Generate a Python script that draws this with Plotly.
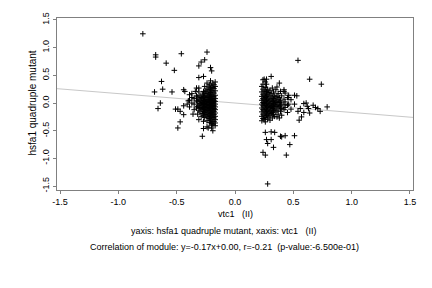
import plotly.graph_objects as go

# ---------------- data ----------------
left_points = [
    # outliers / sparse
    (-0.79, 1.25), (-0.68, 0.87), (-0.68, 0.83), (-0.59, 0.72), (-0.46, 0.89),
    (-0.52, 0.59), (-0.63, 0.39), (-0.62, 0.25), (-0.69, 0.20), (-0.54, 0.20),
    (-0.64, 0.00), (-0.66, -0.10), (-0.51, -0.11), (-0.49, -0.11), (-0.47, -0.15),
    (-0.44, -0.21), (-0.47, -0.34), (-0.49, -0.45), (-0.28, -0.60), (-0.44, 0.24),
    (-0.43, 0.21), (-0.44, -0.05), (-0.39, 0.15), (-0.37, 0.10), (-0.40, 0.04),
    (-0.41, -0.02), (-0.36, -0.20), (-0.31, -0.30), (-0.27, -0.33), (-0.27, -0.46),
    (-0.24, -0.43), (-0.20, -0.45), (-0.19, -0.50), (-0.23, -0.45), (-0.20, -0.41),
    (-0.24, 0.92), (-0.26, 0.78), (-0.29, 0.74), (-0.31, 0.67), (-0.21, 0.64),
    (-0.20, 0.58), (-0.31, 0.46), (-0.27, 0.48), (-0.33, 0.27), (-0.24, 0.36),
    (-0.37, 0.17), (-0.34, 0.21), (-0.33, 0.13), (-0.31, 0.27),
    # dense core
    (-0.17, 0.38), (-0.17, 0.30), (-0.17, 0.22), (-0.17, 0.14), (-0.17, 0.08),
    (-0.17, 0.03), (-0.17, -0.02), (-0.17, -0.07), (-0.17, -0.12), (-0.17, -0.18),
    (-0.17, -0.24), (-0.17, -0.30), (-0.17, -0.36), (-0.17, -0.41),
    (-0.18, 0.33), (-0.18, 0.26), (-0.18, 0.18), (-0.18, 0.11), (-0.18, 0.05),
    (-0.18, 0.00), (-0.18, -0.05), (-0.18, -0.10), (-0.18, -0.15), (-0.18, -0.21),
    (-0.18, -0.27), (-0.18, -0.33),
    (-0.19, 0.36), (-0.19, 0.28), (-0.19, 0.20), (-0.19, 0.12), (-0.19, 0.06),
    (-0.19, 0.01), (-0.19, -0.04), (-0.19, -0.09), (-0.19, -0.14), (-0.19, -0.20),
    (-0.19, -0.26), (-0.19, -0.34), (-0.19, -0.39),
    (-0.20, 0.31), (-0.20, 0.23), (-0.20, 0.16), (-0.20, 0.09), (-0.20, 0.04),
    (-0.20, -0.01), (-0.20, -0.06), (-0.20, -0.11), (-0.20, -0.17), (-0.20, -0.23),
    (-0.20, -0.29), (-0.20, -0.37),
    (-0.21, 0.40), (-0.21, 0.27), (-0.21, 0.19), (-0.21, 0.13), (-0.21, 0.07),
    (-0.21, 0.02), (-0.21, -0.03), (-0.21, -0.08), (-0.21, -0.13), (-0.21, -0.19),
    (-0.21, -0.25), (-0.21, -0.31),
    (-0.22, 0.33), (-0.22, 0.24), (-0.22, 0.15), (-0.22, 0.10), (-0.22, 0.05),
    (-0.22, 0.00), (-0.22, -0.05), (-0.22, -0.10), (-0.22, -0.16), (-0.22, -0.22),
    (-0.22, -0.28), (-0.22, -0.35),
    (-0.23, 0.29), (-0.23, 0.20), (-0.23, 0.12), (-0.23, 0.06), (-0.23, 0.01),
    (-0.23, -0.04), (-0.23, -0.09), (-0.23, -0.14), (-0.23, -0.20), (-0.23, -0.27),
    (-0.24, 0.25), (-0.24, 0.17), (-0.24, 0.09), (-0.24, 0.03), (-0.24, -0.02),
    (-0.24, -0.07), (-0.24, -0.12), (-0.24, -0.18), (-0.24, -0.24), (-0.24, -0.32),
    (-0.25, 0.22), (-0.25, 0.14), (-0.25, 0.07), (-0.25, 0.02), (-0.25, -0.03),
    (-0.25, -0.08), (-0.25, -0.14), (-0.25, -0.21),
    (-0.26, 0.30), (-0.26, 0.18), (-0.26, 0.10), (-0.26, 0.04), (-0.26, -0.01),
    (-0.26, -0.06), (-0.26, -0.11), (-0.26, -0.17), (-0.26, -0.26),
    (-0.27, 0.21), (-0.27, 0.12), (-0.27, 0.05), (-0.27, -0.02), (-0.27, -0.09),
    (-0.27, -0.15), (-0.27, -0.22),
    (-0.28, 0.16), (-0.28, 0.08), (-0.28, 0.01), (-0.28, -0.05), (-0.28, -0.12),
    (-0.28, -0.19),
    (-0.29, 0.10), (-0.29, 0.03), (-0.29, -0.03), (-0.29, -0.10), (-0.29, -0.24),
    (-0.30, 0.13), (-0.30, 0.05), (-0.30, -0.01), (-0.30, -0.08), (-0.30, -0.16),
    (-0.31, 0.20), (-0.31, 0.07), (-0.31, -0.04), (-0.31, -0.13),
    (-0.32, 0.11), (-0.32, 0.02), (-0.32, -0.06), (-0.32, -0.20),
    (-0.33, 0.04), (-0.33, -0.09), (-0.35, 0.08), (-0.35, -0.02), (-0.35, -0.12),
    (-0.37, 0.00), (-0.39, 0.05), (-0.39, -0.07),
]

right_points = [
    # outliers / sparse
    (0.54, 0.77), (0.64, 0.43), (0.74, 0.34), (0.79, -0.07), (0.71, -0.10),
    (0.69, -0.08), (0.67, -0.04), (0.73, -0.15), (0.64, -0.18), (0.61, 0.00),
    (0.62, -0.06), (0.59, -0.01), (0.63, -0.10), (0.56, -0.10), (0.53, 0.13),
    (0.51, 0.14), (0.57, -0.25), (0.55, -0.31), (0.54, -0.15), (0.59, -0.17),
    (0.51, -0.02), (0.46, 0.10),
    (0.31, 0.48), (0.25, 0.43), (0.27, 0.43), (0.27, 0.34), (0.38, 0.36),
    (0.36, 0.29), (0.42, 0.24), (0.42, 0.21),
    (0.26, -0.53), (0.31, -0.52), (0.34, -0.53), (0.27, -0.66), (0.31, -0.66),
    (0.28, -0.73), (0.33, -0.80), (0.24, -0.89), (0.26, -0.94), (0.44, -0.94),
    (0.47, -0.75), (0.51, -0.59), (0.39, -0.60), (0.40, -0.61), (0.43, -0.59),
    (0.28, -1.46),
    # dense core
    (0.23, 0.30), (0.23, 0.20), (0.23, 0.12), (0.23, 0.05), (0.23, -0.02),
    (0.23, -0.09), (0.23, -0.16), (0.23, -0.24), (0.23, -0.32),
    (0.24, 0.42), (0.24, 0.34), (0.24, 0.25), (0.24, 0.16), (0.24, 0.08),
    (0.24, 0.01), (0.24, -0.05), (0.24, -0.12), (0.24, -0.20), (0.24, -0.28),
    (0.25, 0.22), (0.25, 0.14), (0.25, 0.06), (0.25, -0.01), (0.25, -0.07),
    (0.25, -0.14), (0.25, -0.22), (0.25, -0.30),
    (0.26, 0.38), (0.26, 0.28), (0.26, 0.18), (0.26, 0.10), (0.26, 0.03),
    (0.26, -0.04), (0.26, -0.11), (0.26, -0.18), (0.26, -0.26), (0.26, -0.34),
    (0.27, 0.21), (0.27, 0.12), (0.27, 0.05), (0.27, -0.02), (0.27, -0.09),
    (0.27, -0.16), (0.27, -0.23),
    (0.28, 0.25), (0.28, 0.15), (0.28, 0.07), (0.28, 0.00), (0.28, -0.06),
    (0.28, -0.13), (0.28, -0.20), (0.28, -0.29),
    (0.29, 0.19), (0.29, 0.09), (0.29, 0.02), (0.29, -0.04), (0.29, -0.11),
    (0.29, -0.18), (0.29, -0.25),
    (0.30, 0.23), (0.30, 0.13), (0.30, 0.04), (0.30, -0.02), (0.30, -0.08),
    (0.30, -0.15), (0.30, -0.22), (0.30, -0.31),
    (0.31, 0.17), (0.31, 0.07), (0.31, 0.00), (0.31, -0.06), (0.31, -0.13),
    (0.31, -0.19),
    (0.32, 0.27), (0.32, 0.11), (0.32, 0.03), (0.32, -0.04), (0.32, -0.10),
    (0.32, -0.17), (0.32, -0.27),
    (0.33, 0.20), (0.33, 0.08), (0.33, -0.01), (0.33, -0.07), (0.33, -0.14),
    (0.33, -0.21),
    (0.34, 0.14), (0.34, 0.05), (0.34, -0.03), (0.34, -0.11), (0.34, -0.24),
    (0.35, 0.24), (0.35, 0.09), (0.35, 0.01), (0.35, -0.06), (0.35, -0.16),
    (0.36, 0.12), (0.36, 0.03), (0.36, -0.04), (0.36, -0.13), (0.36, -0.25),
    (0.37, 0.17), (0.37, 0.06), (0.37, -0.02), (0.37, -0.09), (0.37, -0.20),
    (0.38, 0.10), (0.38, 0.01), (0.38, -0.07), (0.38, -0.27),
    (0.39, 0.21), (0.39, 0.04), (0.39, -0.05), (0.39, -0.15),
    (0.40, 0.13), (0.40, 0.00), (0.40, -0.10), (0.40, -0.22),
    (0.42, 0.07), (0.42, -0.03), (0.42, -0.12),
    (0.43, 0.18), (0.43, 0.02), (0.43, -0.08),
    (0.45, 0.10), (0.45, -0.04), (0.45, -0.17),
    (0.46, 0.14), (0.46, -0.02), (0.48, 0.06), (0.48, -0.11),
]

fit_slope = -0.17
fit_intercept = 0.00
x_range = [-1.526, 1.526]
y_range = [-1.570, 1.535]
tick_vals = [-1.5, -1.0, -0.5, 0.0, 0.5, 1.0, 1.5]
tick_text = ["-1.5", "-1.0", "-0.5", "0.0", "0.5", "1.0", "1.5"]

x_title = "vtc1   (II)"
y_title = "hsfa1 quadruple mutant"
caption1 = "yaxis: hsfa1 quadruple mutant, xaxis: vtc1   (II)"
caption2 = "Correlation of module: y=-0.17x+0.00, r=-0.21  (p-value:-6.500e-01)"

# ---------------- figure ----------------
pts = left_points + right_points
xs = [p[0] for p in pts]
ys = [p[1] for p in pts]

FONT = "Liberation Sans, Arial, Helvetica, sans-serif"

fig = go.Figure()
fig.add_trace(go.Scatter(
    x=x_range,
    y=[fit_slope * v + fit_intercept for v in x_range],
    mode="lines",
    line=dict(color="#c8c8c8", width=1),
    hoverinfo="skip",
))
fig.add_trace(go.Scatter(
    x=xs, y=ys, mode="markers",
    marker=dict(symbol="cross-thin", size=4, color="black",
                line=dict(width=1, color="black")),
))

axis_common = dict(
    showgrid=False, zeroline=False,
    showline=True, mirror=True, linecolor="#808080", linewidth=1,
    ticks="outside", ticklen=3, tickcolor="#808080", tickwidth=1,
    tickvals=tick_vals, ticktext=tick_text,
    tickfont=dict(family=FONT, size=9, color="black"),
)

fig.update_layout(
    width=432, height=288,
    margin=dict(l=57, r=19, t=13, b=98),
    paper_bgcolor="white", plot_bgcolor="white",
    showlegend=False,
    xaxis=dict(range=x_range, **axis_common),
    yaxis=dict(range=y_range, tickangle=-90, **axis_common),
    font=dict(family=FONT, size=9, color="black"),
)

def px_to_paper_x(px):
    return (px - 57) / 356.0

def px_to_paper_y(py):
    return (190 - py) / 177.0

fig.add_annotation(text=x_title, xref="paper", yref="paper",
                   x=px_to_paper_x(235), y=px_to_paper_y(215),
                   showarrow=False, xanchor="center", yanchor="middle",
                   font=dict(family=FONT, size=9, color="black"))
fig.add_annotation(text=y_title, xref="paper", yref="paper",
                   x=px_to_paper_x(33), y=px_to_paper_y(101),
                   textangle=-90,
                   showarrow=False, xanchor="center", yanchor="middle",
                   font=dict(family=FONT, size=10, color="black"))
fig.add_annotation(text=caption1, xref="paper", yref="paper",
                   x=px_to_paper_x(224), y=px_to_paper_y(232),
                   showarrow=False, xanchor="center", yanchor="middle",
                   font=dict(family=FONT, size=9, color="black"))
fig.add_annotation(text=caption2, xref="paper", yref="paper",
                   x=px_to_paper_x(224), y=px_to_paper_y(249),
                   showarrow=False, xanchor="center", yanchor="middle",
                   font=dict(family=FONT, size=9, color="black"))

fig.write_html("out.html")
